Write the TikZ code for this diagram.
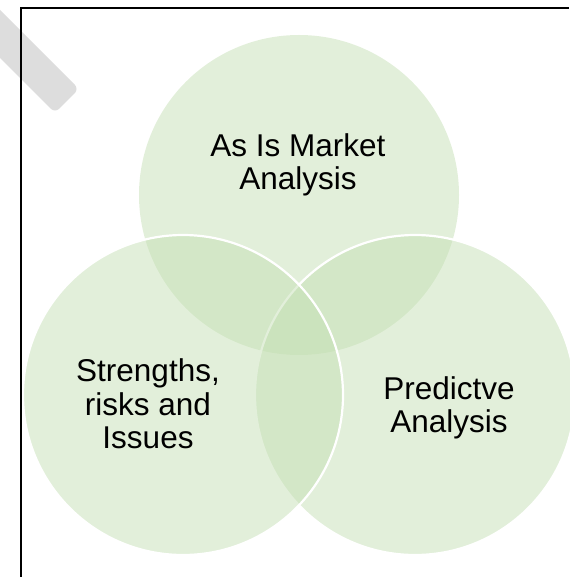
\documentclass[tikz,border=0pt]{standalone}
\usepackage{fontspec}
\setmainfont{Liberation Sans}
\usepackage{tikz}
\definecolor{venngreen}{RGB}{195,222,178}
\definecolor{markgray}{RGB}{221,221,221}

\begin{document}
\begin{tikzpicture}[x=1pt,y=-1pt,
			venn/.style={fill=venngreen,fill opacity=0.48},
			vennline/.style={venn,draw=white,draw opacity=1,line width=2.2pt},
			lbl/.style={align=center,inner sep=0pt,font=\fontsize{31.5}{33.5}\selectfont}]
			\useasboundingbox (0,0) rectangle (569,577);
			% grey stroke in the corner
			\fill[markgray,rounded corners=6pt] (-27,-17) -- (79,89) -- (55,113) -- (-51,7) -- cycle;
			% the three sets
			\fill[venn] (299,195) circle (160pt);
			\foreach \cx in {415,183}
			{
			\filldraw[vennline] (\cx,395) circle (160pt);
			}
			\node[lbl] (market) at (298,165) {As Is Market\\Analysis};
			\node[lbl] (risks) at (148,404) {Strengths,\\risks and\\Issues};
			\node[lbl] (predict) at (449,408) {Predictve\\Analysis};
			% frame
			\draw[line width=1.6pt] (21,577) -- (21,8) -- (569,8);
		\end{tikzpicture}
\end{document}
